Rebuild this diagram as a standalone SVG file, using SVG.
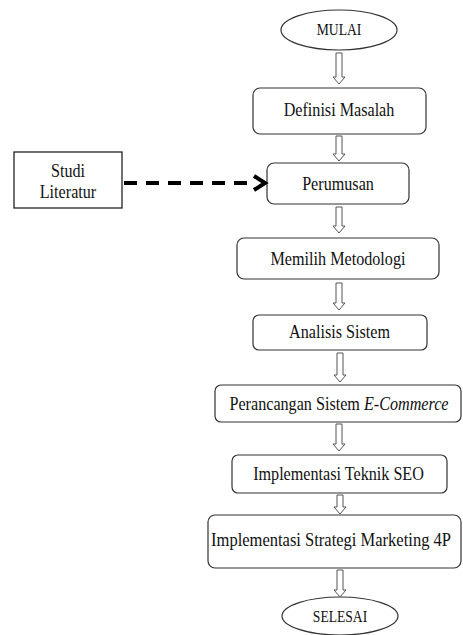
<svg xmlns="http://www.w3.org/2000/svg" width="463" height="635" viewBox="0 0 463 635">
<style>
.bx{fill:#fff;stroke:#333;stroke-width:1.2}
.sq{fill:#fff;stroke:#111;stroke-width:1.2}
.t{font-family:"Liberation Serif","DejaVu Serif",serif;font-size:19px;fill:#111;text-anchor:middle}
.ts{font-size:16px}
.ar{fill:#fff;stroke:#555;stroke-width:1}
.dash{stroke:#000;stroke-width:4;stroke-dasharray:13 9;fill:none}
</style>
<g id="mulai"><ellipse class="bx" cx="339" cy="30" rx="58" ry="20"/><text class="t ts" transform="translate(339,35) scale(0.85,1)">MULAI</text></g>
<g id="definisi"><rect class="bx" x="253" y="88" width="173" height="46" rx="7"/><text class="t" transform="translate(339,116) scale(0.85,1)">Definisi Masalah</text></g>
<g id="studi"><rect class="sq" x="14" y="152" width="108" height="56"/><text class="t" transform="translate(68,177) scale(0.85,1)">Studi</text><text class="t" transform="translate(68,198) scale(0.85,1)">Literatur</text></g>
<g id="perumusan"><rect class="bx" x="267" y="163" width="142" height="41" rx="7"/><text class="t" transform="translate(338,190) scale(0.85,1)">Perumusan</text></g>
<g id="memilih"><rect class="bx" x="237" y="238" width="202" height="41" rx="7"/><text class="t" transform="translate(338,265) scale(0.85,1)">Memilih Metodologi</text></g>
<g id="analisis"><rect class="bx" x="253" y="315" width="174" height="35" rx="6"/><text class="t" transform="translate(339.5,338) scale(0.85,1)">Analisis Sistem</text></g>
<g id="perancangan"><rect class="bx" x="215" y="385" width="246" height="37" rx="6"/><text class="t" transform="translate(339,410) scale(0.85,1)">Perancangan Sistem <tspan font-style="italic">E-Commerce</tspan></text></g>
<g id="seo"><rect class="bx" x="232" y="455" width="215" height="38" rx="6"/><text class="t" transform="translate(338.5,480) scale(0.85,1)">Implementasi Teknik SEO</text></g>
<g id="marketing"><rect class="bx" x="208" y="515" width="253" height="53" rx="7"/><text class="t" transform="translate(331,546) scale(0.87,1)">Implementasi Strategi Marketing 4P</text></g>
<g id="selesai"><ellipse class="bx" cx="340" cy="616" rx="58" ry="19"/><text class="t ts" transform="translate(340,622) scale(0.85,1)">SELESAI</text></g>
<g id="connectors">
<path class="ar" d="M336,53H342V77H345L339,84L333,77H336Z"/>
<path class="ar" d="M336,136H342V154H345L339,161L333,154H336Z"/>
<path class="ar" d="M336,207H342V226H345L339,233L333,226H336Z"/>
<path class="ar" d="M336,283H342V303H345L339,310L333,303H336Z"/>
<path class="ar" d="M337,353H343V375H346L340,382L334,375H337Z"/>
<path class="ar" d="M336,424H342V444H345L339,451L333,444H336Z"/>
<path class="ar" d="M337,495H343V507H346L340,514L334,507H337Z"/>
<path class="ar" d="M337,570H343V590H346L340,597L334,590H337Z"/>
<path class="dash" d="M124,183H253"/>
<path d="M254,176L265,183L254,190" fill="none" stroke="#000" stroke-width="4" stroke-linejoin="miter"/>
</g>
</svg>
